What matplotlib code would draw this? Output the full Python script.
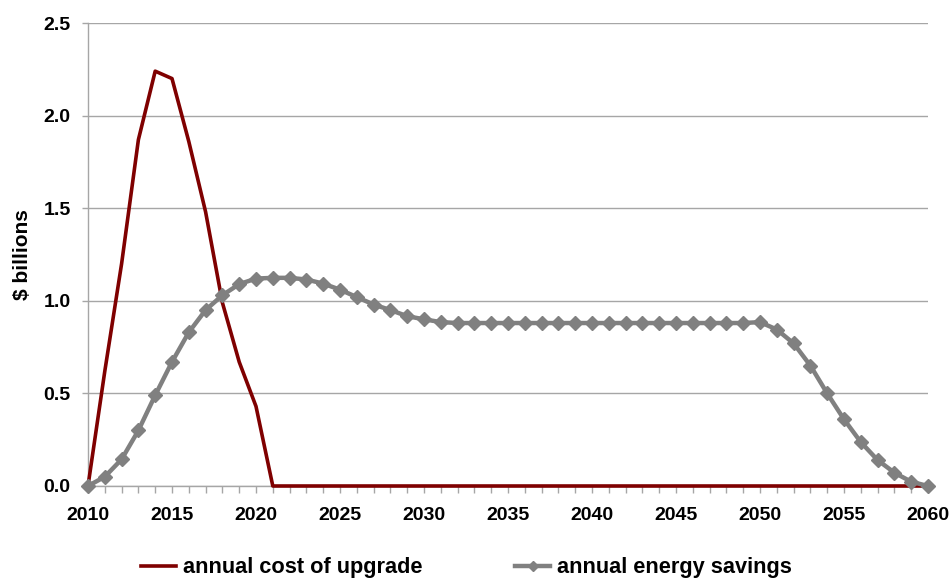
import matplotlib
matplotlib.use("Agg")
import matplotlib.pyplot as plt
from matplotlib import font_manager as fm
from matplotlib.ticker import MultipleLocator
import numpy as np

years = list(range(2010, 2061))

cost_values = [0.00, 0.62, 1.20, 1.87, 2.24, 2.20, 1.86, 1.48, 0.99, 0.67, 0.43, 0.00] + [0.0] * 39

savings_values = [
    0.00, 0.05, 0.144, 0.30, 0.49, 0.67, 0.83, 0.95, 1.03, 1.09,   # 2010-2019
    1.12, 1.124, 1.124, 1.115, 1.093, 1.06, 1.02, 0.98, 0.95, 0.917,  # 2020-2029
    0.90, 0.885, 0.88, 0.88, 0.88, 0.88, 0.88, 0.88, 0.88, 0.88,  # 2030-2039
    0.88, 0.88, 0.88, 0.88, 0.88, 0.88, 0.88, 0.88, 0.88, 0.88,  # 2040-2049
    0.885, 0.845, 0.77, 0.65, 0.50, 0.36, 0.237, 0.14, 0.072, 0.023,  # 2050-2059
    0.00,  # 2060
]

series_labels = ["annual cost of upgrade", "annual energy savings"]
y_label = "$ billions"
y_ticks = [0.0, 0.5, 1.0, 1.5, 2.0, 2.5]

tick_font = ["Liberation Sans", "DejaVu Sans"]
legend_prop = fm.FontProperties(family=["Liberation Sans", "DejaVu Sans"], weight="bold", size=15.7)

fig = plt.figure(figsize=(9.5, 5.8), dpi=100)
ax = fig.add_axes([88 / 950, 1 - 486 / 580, (928 - 88) / 950, (486 - 23) / 580])

grid_c = "#a6a6a6"
ax.set_xlim(2010, 2060)
ax.set_ylim(0, 2.5)
ax.xaxis.set_major_locator(MultipleLocator(5))
ax.xaxis.set_minor_locator(MultipleLocator(1))
ax.grid(axis="y", color=grid_c, linewidth=1.0)
ax.set_axisbelow(True)

for s in ["top", "right"]:
    ax.spines[s].set_visible(False)
for s in ["left", "bottom"]:
    ax.spines[s].set_color(grid_c)
    ax.spines[s].set_linewidth(1.0)

ax.tick_params(axis="both", which="both", direction="out", color=grid_c, width=1.0)
ax.tick_params(axis="x", which="major", length=5, pad=10)
ax.tick_params(axis="x", which="minor", length=5)
ax.tick_params(axis="y", which="major", length=4.5, pad=8)

ax.set_yticks(y_ticks)
ax.set_yticklabels([f"{v:.1f}" for v in y_ticks])
for lab in ax.get_xticklabels() + ax.get_yticklabels():
    lab.set_fontfamily(tick_font)
    lab.set_fontweight("bold")
    lab.set_fontsize(14)

ax.set_ylabel(y_label, fontfamily=tick_font, fontweight="bold", fontsize=15, labelpad=8)

l1, = ax.plot(years, cost_values, color="#7f0000", linewidth=2.6, label=series_labels[0],
              solid_joinstyle="round", zorder=3, clip_on=False)
l2, = ax.plot(years, savings_values, color="#808080", linewidth=3.2, marker="D", markersize=7,
              markeredgecolor="#808080", markerfacecolor="#808080", label=series_labels[1],
              zorder=4, clip_on=False)

fs_px = legend_prop.get_size_in_points() * 100 / 72.0
leg = fig.legend(handles=[l1, l2], labels=series_labels, loc="center",
                 bbox_to_anchor=(466.5 / 950, 1 - 568 / 580), ncol=2, frameon=False,
                 prop=legend_prop,
                 handlelength=35 / fs_px, handletextpad=7 / fs_px, columnspacing=93 / fs_px,
                 markerscale=0.75, borderpad=0.1)

fig.savefig("out.png", dpi=100)
